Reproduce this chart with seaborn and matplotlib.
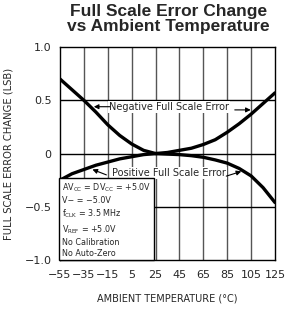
import numpy as np
import pandas as pd
import matplotlib
matplotlib.use('Agg')
import matplotlib.pyplot as plt
import seaborn as sns

# temperature (degC)
temp = [-55, -45, -35, -25, -15, -5, 5, 15, 25, 35, 45, 55, 65, 75, 85, 95, 105, 115, 125]
neg_fs_err = [0.70, 0.60, 0.50, 0.39, 0.27, 0.17, 0.09, 0.03, 0.0, 0.01, 0.03, 0.05,
              0.085, 0.13, 0.20, 0.28, 0.37, 0.47, 0.57]
pos_fs_err = [-0.25, -0.19, -0.15, -0.11, -0.08, -0.05, -0.03, -0.01, 0.0, -0.005, -0.01,
              -0.02, -0.035, -0.06, -0.09, -0.14, -0.21, -0.32, -0.46]

x_ticks = [-55, -35, -15, 5, 25, 45, 65, 85, 105, 125]
y_ticks = [-1.0, -0.5, 0, 0.5, 1.0]
y_ticklabels = ['\u22121.0', '\u22120.5', '0', '0.5', '1.0']

df = pd.DataFrame({'temp': temp + temp,
                   'err': neg_fs_err + pos_fs_err,
                   'curve': ['Negative'] * len(temp) + ['Positive'] * len(temp)})

sns.set_style('white')
plt.rcParams['font.family'] = ['DejaVu Sans']

fig = plt.figure(figsize=(2.86, 3.14), dpi=100)
ax = fig.add_axes([0.2098, 0.172, 0.7517, 0.678])

# grid
for xv in x_ticks[1:-1]:
    ax.axvline(xv, color='#555555', lw=1.0, zorder=1)
for yv in [-0.5, 0, 0.5]:
    ax.axhline(yv, color='black', lw=1.0, zorder=1)

sns.lineplot(data=df, x='temp', y='err', units='curve', estimator=None,
             color='black', lw=2.4, ax=ax, zorder=3)

ax.set_xlim(-55, 125)
ax.set_ylim(-1.0, 1.0)
ax.set_xticks(x_ticks)
ax.set_xticklabels([str(t).replace('-', '\u2212') for t in x_ticks], fontsize=8)
ax.set_yticks(y_ticks)
ax.set_yticklabels(y_ticklabels, fontsize=8)
ax.tick_params(axis='x', length=0, pad=7)
ax.tick_params(axis='y', length=0, pad=6)
for s in ax.spines.values():
    s.set_color('black')
    s.set_linewidth(1.0)

ax.set_xlabel('AMBIENT TEMPERATURE (\u00b0C)', fontsize=7, labelpad=10)
ax.set_ylabel('FULL SCALE ERROR CHANGE (LSB)', fontsize=7.2, labelpad=8)

fig.text(0.588, 0.988, 'Full Scale Error Change\nvs Ambient Temperature',
         ha='center', va='top', fontsize=12.5, fontweight='bold',
         family='Liberation Sans', linespacing=1.0)

# curve labels
bb = dict(boxstyle='square,pad=0.1', fc='white', ec='none')
ax.text(36, 0.44, 'Negative Full Scale Error', ha='center', va='center',
        fontsize=7, bbox=bb, zorder=4)
ax.annotate('', xy=(-29, 0.44), xytext=(-11, 0.44),
            arrowprops=dict(arrowstyle='-|>', color='black', lw=0.8, mutation_scale=7), zorder=4)
ax.annotate('', xy=(107, 0.41), xytext=(89, 0.41),
            arrowprops=dict(arrowstyle='-|>', color='black', lw=0.8, mutation_scale=7), zorder=4)

ax.text(36, -0.18, 'Positive Full Scale Error', ha='center', va='center',
        fontsize=7, bbox=bb, zorder=4)
ax.annotate('', xy=(-30, -0.14), xytext=(-14, -0.21),
            arrowprops=dict(arrowstyle='-|>', color='black', lw=0.8, mutation_scale=7), zorder=4)
ax.annotate('', xy=(99, -0.16), xytext=(82, -0.22),
            arrowprops=dict(arrowstyle='-|>', color='black', lw=0.8, mutation_scale=7), zorder=4)

# conditions box
cond = ('AV$_{\\mathregular{CC}}$ = DV$_{\\mathregular{CC}}$ = +5.0V\n'
        'V\u2212 = \u22125.0V\n'
        'f$_{\\mathregular{CLK}}$ = 3.5 MHz\n'
        'V$_{\\mathregular{REF}}$ = +5.0V\n'
        'No Calibration\n'
        'No Auto-Zero')
ax.text(-53.5, -0.98, cond, ha='left', va='bottom', fontsize=5.8, linespacing=1.3,
        bbox=dict(boxstyle='square,pad=0.3', fc='white', ec='black', lw=1.0), zorder=5)

fig.savefig('out.png', dpi=100)
